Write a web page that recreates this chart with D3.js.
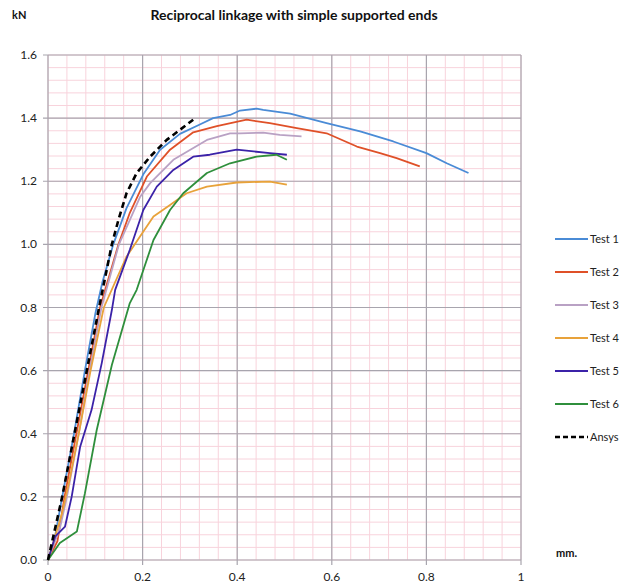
<!DOCTYPE html>
<head>
  <meta charset="utf-8">
  <script src="https://d3js.org/d3.v7.min.js"></script>
  <style>
    body { margin:0; background:#fff; }
    svg { font-family: Lato, "Open Sans", sans-serif; }
  </style>
</head>
<body>
<script>
// data: [mm, kN]
var test1 = [[0,0],[0.012,0.05],[0.03,0.2],[0.055,0.4],[0.078,0.6],[0.1,0.78],[0.115,0.88],[0.138,1.0],[0.166,1.115],[0.2015,1.222],[0.237,1.30],[0.279,1.35],[0.321,1.38],[0.349,1.40],[0.385,1.41],[0.406,1.424],[0.441,1.43],[0.455,1.426],[0.512,1.414],[0.589,1.384],[0.66,1.358],[0.73,1.326],[0.80,1.289],[0.843,1.257],[0.889,1.226]];
var test2 = [[0,0],[0.02,0.06],[0.035,0.2],[0.06,0.4],[0.085,0.6],[0.11,0.8],[0.149,1.0],[0.173,1.10],[0.209,1.215],[0.258,1.30],[0.307,1.355],[0.357,1.375],[0.42,1.395],[0.469,1.384],[0.526,1.368],[0.589,1.352],[0.653,1.31],[0.702,1.289],[0.737,1.273],[0.786,1.247]];
var test3 = [[0,0],[0.025,0.1],[0.04,0.2],[0.065,0.4],[0.088,0.6],[0.113,0.8],[0.15,1.0],[0.1945,1.15],[0.216,1.194],[0.265,1.268],[0.336,1.331],[0.385,1.352],[0.406,1.352],[0.455,1.354],[0.49,1.347],[0.536,1.342]];
var test4 = [[0,0],[0.03,0.15],[0.045,0.25],[0.065,0.4],[0.09,0.6],[0.118,0.8],[0.166,0.961],[0.1945,1.025],[0.223,1.088],[0.258,1.125],[0.293,1.162],[0.336,1.183],[0.399,1.196],[0.469,1.199],[0.505,1.189]];
var test5 = [[0,0],[0.015,0.074],[0.036,0.106],[0.05,0.2],[0.068,0.359],[0.092,0.475],[0.1135,0.623],[0.135,0.792],[0.142,0.856],[0.173,0.983],[0.2015,1.109],[0.23,1.183],[0.265,1.236],[0.307,1.278],[0.342,1.284],[0.399,1.30],[0.469,1.289],[0.505,1.284]];
var test6 = [[0,0],[0.025,0.054],[0.061,0.09],[0.078,0.211],[0.103,0.412],[0.135,0.618],[0.173,0.814],[0.1875,0.856],[0.223,1.014],[0.258,1.109],[0.286,1.162],[0.336,1.226],[0.385,1.257],[0.441,1.278],[0.483,1.284],[0.505,1.268]];
var ansys = [[0,0],[0.03,0.2],[0.056,0.4],[0.082,0.6],[0.108,0.8],[0.135,1.0],[0.149,1.078],[0.166,1.162],[0.1875,1.226],[0.216,1.278],[0.251,1.331],[0.307,1.395]];

var seriesNames = ["Test 1","Test 2","Test 3","Test 4","Test 5","Test 6","Ansys"];
var seriesData = [test1, test2, test3, test4, test5, test6, ansys];
var colors = ["#4a8bd6","#df5028","#b9a1c4","#e8a23a","#3b22a8","#2f8f3c","#000000"];

var xTicks = [0, 0.2, 0.4, 0.6, 0.8, 1];
var yTicks = [0, 0.2, 0.4, 0.6, 0.8, 1.0, 1.2, 1.4, 1.6];

var width = 627, height = 588;
var svg = d3.select("body").append("svg").attr("width", width).attr("height", height);

var x = d3.scaleLinear().domain([0, 1]).range([48, 521]);
var y = d3.scaleLinear().domain([0, 1.6]).range([560, 55]);

// minor grid
var minorX = d3.range(0, 1.0001, 0.04);
var minorY = d3.range(0, 1.6001, 0.04);
svg.append("g").selectAll("line").data(minorX).enter().append("line")
  .attr("x1", d => x(d)).attr("x2", d => x(d)).attr("y1", y(0)).attr("y2", y(1.6))
  .attr("stroke", "#f8d3dc").attr("stroke-width", 1);
svg.append("g").selectAll("line").data(minorY).enter().append("line")
  .attr("x1", x(0)).attr("x2", x(1)).attr("y1", d => y(d)).attr("y2", d => y(d))
  .attr("stroke", "#f8d3dc").attr("stroke-width", 1);

// major grid
svg.append("g").selectAll("line").data(xTicks).enter().append("line")
  .attr("x1", d => x(d)).attr("x2", d => x(d)).attr("y1", y(0) + 5).attr("y2", y(1.6))
  .attr("stroke", "#a8a5ae").attr("stroke-width", 1.2);
svg.append("g").selectAll("line").data(yTicks).enter().append("line")
  .attr("x1", x(0) - 5).attr("x2", x(1)).attr("y1", d => y(d)).attr("y2", d => y(d))
  .attr("stroke", "#a8a5ae").attr("stroke-width", 1.2);

// axis labels
svg.append("g").selectAll("text").data(yTicks).enter().append("text")
  .attr("x", 37).attr("y", d => y(d) + 4).attr("text-anchor", "end")
  .attr("font-size", 12).attr("fill", "#222").text(d => d.toFixed(1));
svg.append("g").selectAll("text").data(xTicks).enter().append("text")
  .attr("x", d => x(d)).attr("y", 581).attr("text-anchor", "middle")
  .attr("font-size", 12).attr("fill", "#222").text(d => d);

// curves
var line = d3.line().x(d => x(d[0])).y(d => y(d[1]));
seriesData.forEach(function(s, i) {
  svg.append("path").datum(s).attr("d", line).attr("fill", "none")
    .attr("stroke", colors[i])
    .attr("stroke-width", i == 6 ? 2.6 : 1.8)
    .attr("stroke-dasharray", i == 6 ? "6,4" : null)
    .attr("stroke-linejoin", "round");
});

// titles
svg.append("text").attr("x", 294).attr("y", 20).attr("text-anchor", "middle")
  .attr("font-size", 14).attr("font-weight", "bold").attr("fill", "#111")
  .text("Reciprocal linkage with simple supported ends");
svg.append("text").attr("x", 12).attr("y", 19).attr("font-size", 11).attr("font-weight", "bold")
  .attr("fill", "#111").text("kN");
svg.append("text").attr("x", 556).attr("y", 557).attr("font-size", 11).attr("font-weight", "bold")
  .attr("fill", "#111").text("mm.");

// legend
var legend = svg.append("g").selectAll("g").data(seriesNames).enter().append("g")
  .attr("transform", (d, i) => "translate(555," + (239 + i * 33) + ")");
legend.append("line").attr("x1", 0).attr("x2", 33).attr("y1", 0).attr("y2", 0)
  .attr("stroke", (d, i) => colors[i])
  .attr("stroke-width", (d, i) => i == 6 ? 2.6 : 1.8)
  .attr("stroke-dasharray", (d, i) => i == 6 ? "5,3" : null);
legend.append("text").attr("x", 35).attr("y", 4).attr("font-size", 11).attr("fill", "#222")
  .text(d => d);
</script>
</body>
